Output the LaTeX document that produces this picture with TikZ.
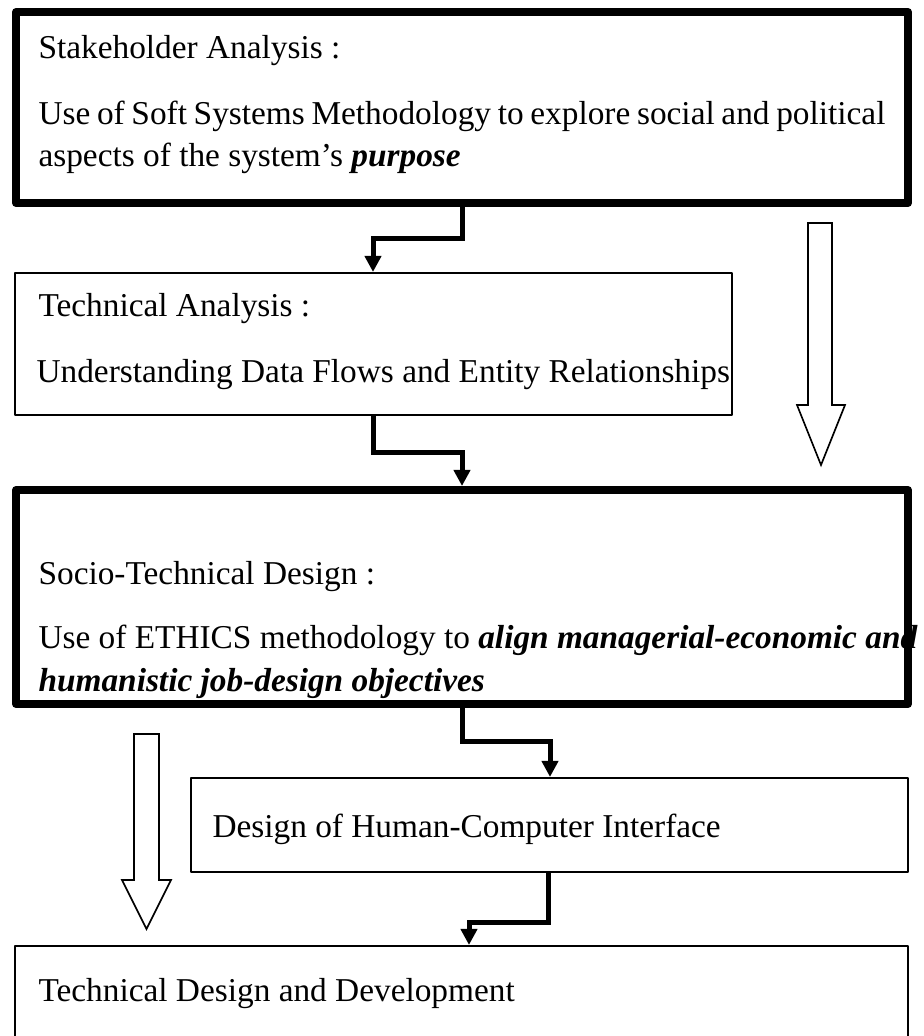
\documentclass[tikz,border=0pt]{standalone}
\usepackage{fontspec}
\setmainfont{Liberation Serif}
\usetikzlibrary{arrows.meta}
\newdimen\px
\px=0.36pt
\tikzset{
  stagebox/.style={draw, rectangle, inner sep=0pt, line join=round},
  heavy/.style={stagebox, line width=2.9pt},
  light/.style={stagebox, line width=0.75pt},
  flow/.style={-{Triangle[length=5.8pt,width=5.8pt]}, line width=1.8pt},
  hollow/.style={draw, fill=white, line width=0.6pt},
  txt/.style={anchor=base west, inner sep=0pt, font=\fontsize{12}{14}\selectfont},
}
\begin{document}
\begin{tikzpicture}[x=0.36pt, y=-0.36pt]
  \useasboundingbox (0,0) rectangle (924,1036);
  % stage boxes
  \node[heavy, minimum width=892\px, minimum height=191\px] (stake) at (462,107.5) {};
  \node[light, minimum width=717\px, minimum height=142\px] (tech) at (373.5,344) {};
  \node[heavy, minimum width=892\px, minimum height=214\px] (socio) at (462,597) {};
  \node[light, minimum width=717\px, minimum height=94\px] (hci) at (549.5,825) {};
  \node[light, minimum width=893\px, minimum height=124\px] (dev) at (461.5,1008) {};
  % texts
  \node[txt] (stake1) at (38,58) {Stakeholder Analysis :};
  \node[txt] (stake2) at (38,124) {\spaceskip=2.4pt Use of Soft Systems Methodology to explore social and political};
  \node[txt] (stake3) at (38,166) {aspects of the system’s \textbf{\textit{purpose}}};
  \node[txt] (tech1) at (38,316) {Technical Analysis :};
  \node[txt] (tech2) at (36,382) {Understanding Data Flows and Entity Relationships};
  \node[txt] (socio1) at (38,584) {Socio-Technical Design :};
  \node[txt] (socio2) at (38,648) {Use of ETHICS methodology to \textbf{\textit{align managerial-economic and}}};
  \node[txt] (socio3) at (38,691) {\textbf{\textit{humanistic job-design objectives}}};
  \node[txt] (hci1) at (212,837) {Design of Human-Computer Interface};
  \node[txt] (dev1) at (38,1001) {Technical Design and Development};
  % elbow connectors
  \coordinate (k1) at (462,238);
  \coordinate (k2) at (373,238);
  \coordinate (k3) at (373,452);
  \coordinate (k4) at (462,452);
  \coordinate (k5) at (462,741);
  \coordinate (k6) at (550,741);
  \coordinate (k7) at (548,922);
  \coordinate (k8) at (469,922);
  \draw[flow] (stake.south -| k1) |- (k2) -- (tech.north -| k2);
  \draw[flow] (tech.south -| k3) |- (k4) -- (socio.north -| k4);
  \draw[flow] (socio.south -| k5) |- (k6) -- (hci.north -| k6);
  \draw[flow] (hci.south -| k7) |- (k8) -- (dev.north -| k8);
  % hollow block arrows
  \draw[hollow] (808,223) -- (832,223) -- (832,405) -- (845,405) -- (821,465)
    -- (797,405) -- (808,405) -- cycle;
  \draw[hollow] (134,734) -- (159,734) -- (159,880) -- (171,880) -- (146.5,929)
    -- (122,880) -- (134,880) -- cycle;
\end{tikzpicture}
\end{document}
